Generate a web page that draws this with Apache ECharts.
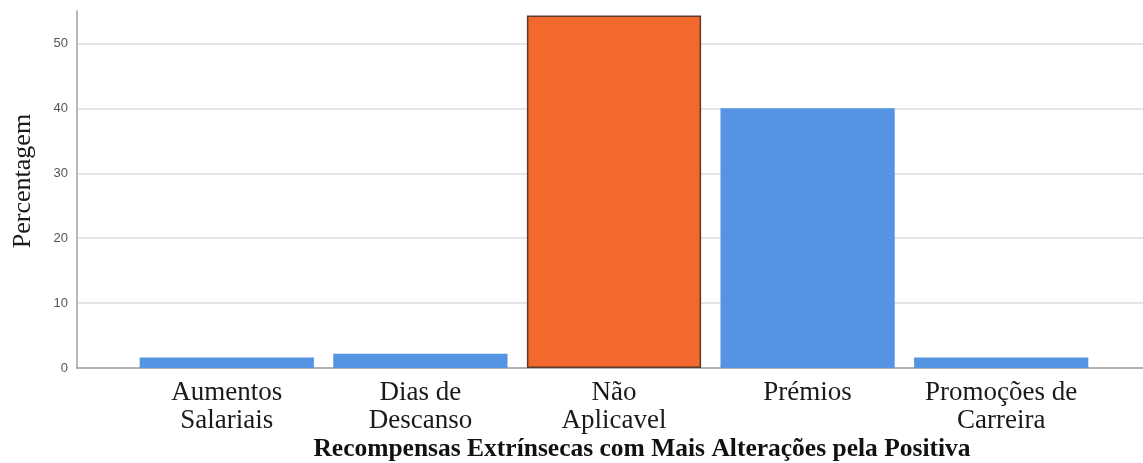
<!DOCTYPE html>
<html>
<head>
<meta charset="utf-8">
<script src="https://cdn.jsdelivr.net/npm/echarts@6/dist/echarts.min.js"></script>
<style>
  html, body { margin: 0; padding: 0; background: #fff; }
  #chart { width: 1143px; height: 463px; }
</style>
</head>
<body>
<div id="chart"></div>
<script>
// Categories (line breaks as printed under each bar)
const categories = ['Aumentos\nSalariais', 'Dias de\nDescanso', 'Não\nAplicavel', 'Prémios', 'Promoções de\nCarreira'];
// Percentage per category
const percentages = [1.6, 2.2, 54.3, 40.0, 1.6];
// Highlighted category index
const highlightIndex = 2;
// Tick range (labels 0..50), axis extends to 55
const tickMin = 0, tickMax = 50, tickStep = 10, axisTop = 55;
const xTitle = 'Recompensas Extrínsecas com Mais Alterações pela Positiva';
const yTitle = 'Percentagem';

const blue = '#5494e3';
const orange = '#f2682d';
const serif = 'Liberation Serif';

const chart = echarts.init(document.getElementById('chart'), null, { renderer: 'canvas' });

// pixel scale shared by all grids: 0 at y=368, axisTop at y=11
const plotBottom = 95;
const plotTop = 11;
const tickTop = plotTop + (463 - plotBottom - plotTop) * (axisTop - tickMax) / axisTop;

const option = {
  animation: false,
  backgroundColor: '#ffffff',
  grid: [
    // frame: axis lines
    { left: 77, right: 0, top: plotTop, bottom: plotBottom, outerBoundsMode: 'none', containLabel: false },
    // ticks, labels and gridlines
    { left: 77, right: 0, top: tickTop, bottom: plotBottom, outerBoundsMode: 'none', containLabel: false },
    // bars
    { left: 130, right: 45, top: plotTop, bottom: plotBottom, outerBoundsMode: 'none', containLabel: false }
  ],
  xAxis: [
    {
      gridIndex: 0, type: 'category', data: [''],
      axisLine: { show: true, lineStyle: { color: '#a0a0a0', width: 1.5 } },
      axisTick: { show: false }, axisLabel: { show: false }, splitLine: { show: false }
    },
    {
      gridIndex: 1, type: 'category', data: [''], show: false
    },
    {
      gridIndex: 2, type: 'category', data: categories,
      axisLine: { show: false }, axisTick: { show: false },
      axisLabel: {
        interval: 0, margin: 11,
        fontFamily: serif, fontSize: 27, lineHeight: 28, color: '#1a1a1a'
      }
    }
  ],
  yAxis: [
    {
      gridIndex: 0, type: 'value', min: 0, max: axisTop,
      axisLine: { show: true, lineStyle: { color: '#a0a0a0', width: 1.5 } },
      axisTick: { show: false }, axisLabel: { show: false }, splitLine: { show: false }
    },
    {
      gridIndex: 1, type: 'value', min: tickMin, max: tickMax, interval: tickStep,
      axisLine: { show: false }, axisTick: { show: false },
      axisLabel: { margin: 9, fontFamily: 'Liberation Sans', fontSize: 13, color: '#555' },
      splitLine: { show: true, lineStyle: { color: '#dcdcdc', width: 1.5 } }
    },
    {
      gridIndex: 2, type: 'value', min: 0, max: axisTop, show: false, splitLine: { show: false }
    }
  ],
  series: [
    {
      type: 'bar', xAxisIndex: 2, yAxisIndex: 2,
      barCategoryGap: '10%',
      data: percentages.map((v, i) => ({
        value: v,
        itemStyle: i === highlightIndex
          ? { color: orange, borderColor: '#5a3b2c', borderWidth: 1.5 }
          : { color: blue }
      }))
    }
  ],
  graphic: [
    {
      type: 'text', x: 642, y: 449,
      style: {
        text: xTitle, align: 'center', verticalAlign: 'middle',
        fontFamily: serif, fontSize: 25.5, fontWeight: 'bold', fill: '#111'
      }
    },
    {
      type: 'text', x: 23, y: 181, rotation: Math.PI / 2,
      style: {
        text: yTitle, align: 'center', verticalAlign: 'middle',
        fontFamily: serif, fontSize: 26, fill: '#1a1a1a'
      }
    }
  ]
};

chart.setOption(option);
</script>
</body>
</html>
